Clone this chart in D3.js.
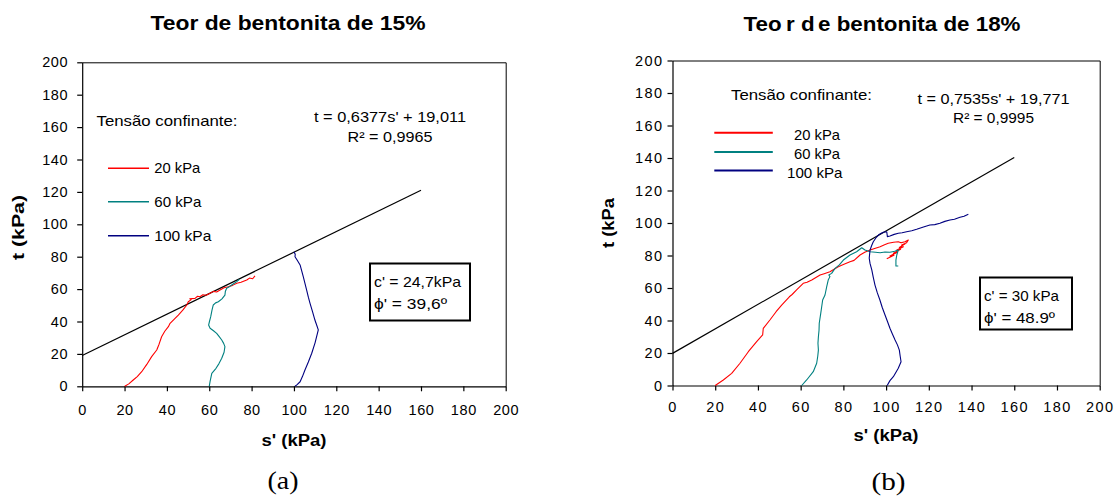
<!DOCTYPE html>
<html>
<head>
<meta charset="utf-8">
<script src="https://cdn.jsdelivr.net/npm/d3@7"></script>
<style>
  body { margin: 0; background: #fff; }
  svg { display: block; }
  text { font-family: "Liberation Sans", Arial, sans-serif; fill: #000; }
</style>
</head>
<body>
<svg id="chart" width="1117" height="496"></svg>
<script>
// Axis ticks shared by both panels (kPa)
const tickValues = [0, 20, 40, 60, 80, 100, 120, 140, 160, 180, 200];
const seriesNames = ["20 kPa", "60 kPa", "100 kPa"];
const seriesColors = ["#ff0000", "#008080", "#000080"];

// Stress paths, bentonite 15% : [s', t] in kPa
const pathA20 = [[20.1,0],[22,1.5],[24.1,3.9],[26,6],[28.1,9],[30.5,13.5],[32.8,18.3],[35.2,22.4],[36.3,26],[37.5,30.6],[39,34],[40.7,36.8],[41.5,38.9],[43.5,41.5],[45.4,44],[47.5,47],[49.4,50.2],[50.1,52.2],[51.5,53.5],[50.8,54],[53.3,54.3],[54.5,55.6],[55.6,55.3],[57,56.5],[58.5,56.2],[60.4,57.4],[62,58.6],[63.5,58.2],[65.1,59.4],[67,60.8],[69,61.5],[71,62.3],[73,63.6],[75,64.2],[77.7,65.6],[79,66.8],[80.5,66.4],[81.6,68.1]];
const pathA60 = [[60,0],[60.4,3],[61.2,8],[63.2,11.1],[64.6,14],[65.9,17.3],[67,21],[67.4,24.5],[66.8,26.5],[65.9,28.6],[64.8,30.5],[63.5,32.7],[62,34.3],[60.4,35.8],[59.7,37.8],[60.1,40],[60.7,43],[61.3,47],[61.9,50.2],[63,51.5],[64.3,52.2],[66,54],[67.4,56.3],[67.6,58.5],[68.2,60.5],[69.5,61.5],[70.6,62.5],[72,63.8],[73,64.6],[74.2,66]];
const pathA100 = [[100.5,0],[101.5,1],[102.9,2.8],[104,6],[105.2,10.1],[106.8,15],[108.4,20.4],[110,27],[111.5,34.8],[110.8,37.5],[109.9,40.9],[108.8,46],[107.6,51.2],[106.8,55],[106,59.4],[105.2,63.5],[104.4,67.7],[103.6,71.5],[102.9,74.9],[101.7,77.5],[100.5,80],[100.6,81.5],[100,83.1]];

// Stress paths, bentonite 18% : [s', t] in kPa
const pathB20 = [[20,0],[23.8,3.4],[27.7,7.5],[31.6,13.7],[35.5,20.8],[39.4,27],[42.2,31.1],[42.5,35.2],[45.6,40.3],[48.5,45.4],[51.1,49.5],[54.7,54.6],[56,56],[58.1,58.8],[61.2,62.9],[63,63.5],[65.2,64.9],[69.1,68],[71,68.8],[73.7,70],[77.6,73.1],[80,74.5],[83.1,76.2],[85,77],[87.8,80.3],[90,82],[92.5,83.4],[95,84.5],[97.2,85.4],[99,86.5],[101,87.5],[103.5,88.2],[105.7,88.5],[107,87.8],[108.8,88.5],[110.4,89.5],[109.6,87.9],[107.3,86.5],[108.8,87.1],[106.2,85],[108.1,85.4],[105,83.4],[106.8,83.8],[103.4,81.4],[105.3,82],[101.8,79.7],[103.7,80.1],[100.3,78]];
const pathB60 = [[60.5,0],[62.8,3.4],[65.9,8.5],[67.5,13.7],[68,18],[68.3,21.8],[68.1,26],[68.3,30],[68.6,34],[68.7,38.3],[69.4,44.4],[69.8,48],[70.3,52.6],[71.4,55.7],[72.2,60.8],[72.9,64.9],[73.7,67],[73.2,68],[74.5,69],[76.1,72.1],[78.1,74.2],[80,77.2],[83.1,80.3],[86.2,82.3],[88.6,84.8],[90.1,83.4],[92.5,82.3],[95,82],[97.2,81.7],[99.5,82.2],[101.8,82],[104,82.6],[105.7,83.4],[105,80.3],[104.6,77.2],[104.6,73.5],[105.7,73.5]];
const pathB100 = [[100.5,0],[101.8,3],[103.4,5.4],[105.7,10.6],[107,14.6],[106.6,18],[106.2,21.8],[105.3,25],[104.2,28],[103,31.5],[101.8,35.2],[100.6,39.5],[99.5,43.4],[98.2,48],[97.1,52.6],[95.9,57],[94.8,61.8],[94,66.5],[93.3,71.1],[92.5,75],[92.1,78.3],[92.3,81],[92.5,83.4],[93.2,86],[94,88.5],[95.2,90.8],[96.4,92.6],[97.5,93.5],[98.7,94.3],[100.3,94.6],[100.6,91.6],[101.8,92],[103.8,93],[105.7,93.7],[107.5,94],[109.6,94.6],[112,95.2],[114.3,96.1],[117.5,97.5],[120.5,98.8],[122.8,99],[125.2,99.8],[127.5,101],[129.9,101.8],[132,102.3],[134.6,103.5],[136.5,104.2],[138.5,105.4]];

// Failure envelope fits: t = slope * s' + intercept, drawn up to s' = 160
const fitA = { slope: 0.6377, intercept: 19.011 };
const fitB = { slope: 0.7535, intercept: 19.771 };
const fitEnd = 160;

const svg = d3.select("#chart");

function label(g, str, x, y, o = {}) {
  const t = g.append("text")
    .attr("x", x).attr("y", y)
    .attr("font-size", o.size || 14)
    .attr("font-weight", o.weight || "normal")
    .attr("text-anchor", o.anchor || "start")
    .text(str);
  if (o.len) t.attr("textLength", o.len).attr("lengthAdjust", "spacingAndGlyphs");
  if (o.family) t.style("font-family", o.family);
  if (o.rotate) t.attr("transform", `rotate(-90 ${x} ${y})`);
  return t;
}

function panel(cfg) {
  const g = svg.append("g");
  const x = d3.scaleLinear().domain([0, 200]).range(cfg.xr);
  const y = d3.scaleLinear().domain([0, 200]).range(cfg.yr);

  // plot frame (top and right)
  g.append("path")
    .attr("d", `M${x(0)},${y(200) + 0.5}H${x(200) + 0.5}V${y(0)}`)
    .attr("fill", "none").attr("stroke", "#000").attr("stroke-width", 1);

  const ya = g.append("g").attr("transform", `translate(${x(0)},0)`)
    .call(d3.axisLeft(y).tickValues(tickValues).tickSize(5).tickSizeOuter(0).tickPadding(cfg.padY));
  const xa = g.append("g").attr("transform", `translate(0,${y(0)})`)
    .call(d3.axisBottom(x).tickValues(tickValues).tickSize(5).tickSizeOuter(0).tickPadding(cfg.padX));
  [ya, xa].forEach(a => {
    a.selectAll("path,line").attr("stroke", "#000").attr("stroke-width", 1.2);
    a.selectAll("text").attr("font-size", 14.5).style("font-family", '"Liberation Sans", Arial, sans-serif')
      .attr("letter-spacing", cfg.tickSpacing);
  });

  // failure envelope
  g.append("line")
    .attr("x1", x(0)).attr("y1", y(cfg.fit.intercept))
    .attr("x2", x(fitEnd)).attr("y2", y(cfg.fit.slope * fitEnd + cfg.fit.intercept))
    .attr("stroke", "#000").attr("stroke-width", 1.2);

  // stress paths
  const line = d3.line().x(d => x(d[0])).y(d => y(d[1]));
  cfg.paths.forEach((p, i) => {
    g.append("path").attr("d", line(p))
      .attr("fill", "none").attr("stroke", seriesColors[i])
      .attr("stroke-width", 1.1).attr("stroke-linejoin", "round");
  });

  // legend
  label(g, "Tensão confinante:", cfg.legTitle[0], cfg.legTitle[1], { size: 14.5, len: 141 });
  seriesNames.forEach((name, i) => {
    const ly = cfg.legY[i];
    g.append("line").attr("x1", cfg.legX[0]).attr("x2", cfg.legX[1])
      .attr("y1", ly).attr("y2", ly)
      .attr("stroke", seriesColors[i]).attr("stroke-width", cfg.legW);
    label(g, name, cfg.legText[i], ly + cfg.legDy, { size: 14.5, len: cfg.legLen[i] });
  });

  // regression equation
  label(g, cfg.eq[0], cfg.eqX, cfg.eqY[0], { size: 14.5, anchor: "middle", len: 152 });
  label(g, cfg.eq[1], cfg.eqX, cfg.eqY[1], { size: 14.5, anchor: "middle", len: cfg.r2Len });

  // parameter box
  const b = cfg.box;
  g.append("rect").attr("x", b[0]).attr("y", b[1]).attr("width", b[2]).attr("height", b[3])
    .attr("fill", "#fff").attr("stroke", "#000").attr("stroke-width", 2);
  label(g, cfg.boxText[0], b[0] + 4, b[1] + 23, { size: 15, len: cfg.boxLen[0] });
  label(g, cfg.boxText[1], b[0] + 4, b[1] + 45, { size: 15, len: cfg.boxLen[1] });

  // axis titles
  label(g, "s' (kPa)", cfg.xTitle[0], cfg.xTitle[1], { size: 16, weight: "bold", anchor: "middle", len: 65 });
  label(g, cfg.yTitleText, cfg.yTitle[0], cfg.yTitle[1], { size: 16, weight: "bold", anchor: "middle", len: cfg.yTitleLen, rotate: true });

  // sub-figure letter
  label(g, cfg.letter, cfg.letterPos[0], cfg.letterPos[1], { size: 25, anchor: "middle", len: cfg.letterLen, family: '"Liberation Serif", "Times New Roman", serif' });
  return g;
}

panel({
  xr: [82.2, 505.7], yr: [386.3, 62.3], padY: 9, padX: 13.5, tickSpacing: 0.6,
  fit: fitA, paths: [pathA20, pathA60, pathA100],
  legTitle: [96.5, 125.5], legX: [108, 149], legY: [168.3, 201.7, 235.7], legW: 1.6, legDy: 5,
  legText: [154.3, 154.3, 154.3], legLen: [46, 47, 57],
  eq: ["t = 0,6377s' + 19,011", "R² = 0,9965"], eqX: 390, eqY: [121.7, 141.5], r2Len: 85,
  box: [370, 263.5, 100, 57], boxText: ["c' = 24,7kPa", "ϕ' = 39,6º"], boxLen: [87, 73],
  xTitle: [294, 446], yTitle: [23.5, 227.5], yTitleText: "t (kPa)", yTitleLen: 65,
  letter: "(a)", letterPos: [283, 489], letterLen: 31
});

panel({
  xr: [672.5, 1099.7], yr: [385.5, 60.5], padY: 4, padX: 11, tickSpacing: 1.4,
  fit: fitB, paths: [pathB20, pathB60, pathB100],
  legTitle: [731, 99.5], legX: [714.3, 772.8], legY: [132.7, 152, 170.5], legW: 2, legDy: 7,
  legText: [794, 794, 787], legLen: [46, 46, 55.5],
  eq: ["t = 0,7535s' + 19,771", "R² = 0,9995"], eqX: 993.5, eqY: [103.5, 123], r2Len: 81,
  box: [980, 277.5, 92, 52], boxText: ["c' = 30 kPa", "ϕ' = 48.9º"], boxLen: [75, 71],
  xTitle: [886, 440.5], yTitle: [613.5, 223], yTitleText: "t (kPa", yTitleLen: 50,
  letter: "(b)", letterPos: [888.5, 490], letterLen: 34
});

// panel titles
label(svg, "Teor de bentonita de 15%", 288, 30, { size: 20, weight: "bold", anchor: "middle", len: 275 });
const t18 = svg.append("text").attr("x", 882).attr("y", 30.5)
  .attr("font-size", 20).attr("font-weight", "bold").attr("text-anchor", "middle")
  .attr("textLength", 277).attr("lengthAdjust", "spacingAndGlyphs");
t18.append("tspan").text("Teo");
t18.append("tspan").attr("dx", 4).text("r");
t18.append("tspan").text(" d");
t18.append("tspan").attr("dx", 3).text("e bentonita de 18%");
</script>
</body>
</html>
